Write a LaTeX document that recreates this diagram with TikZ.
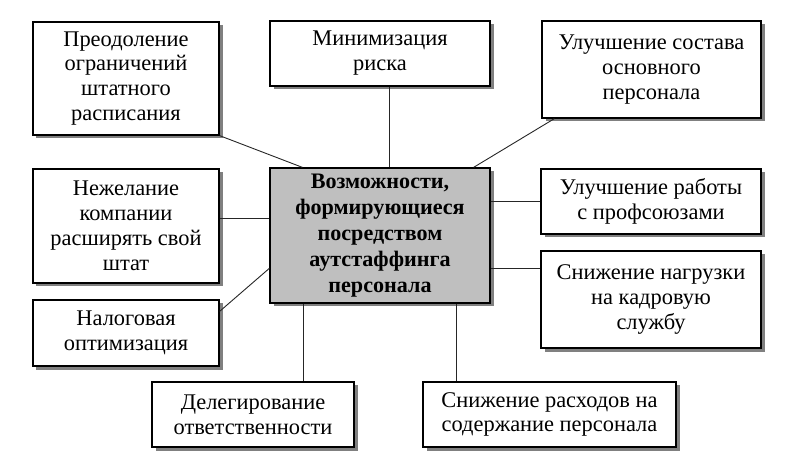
\documentclass[tikz,border=0pt]{standalone}
\usepackage{fontspec}
\setmainfont{Liberation Serif}
\usetikzlibrary{shadows}
\begin{document}
\begin{tikzpicture}[x=1bp,y=-1bp,
  box/.style={draw=black, line width=1.3bp, fill=white, align=center, inner sep=2bp,
    font=\fontsize{22.5}{25}\selectfont,
    general shadow={fill=black!50, shadow xshift=3.5bp, shadow yshift=-3.5bp}},
  centre/.style={box, fill=black!25, font=\fontsize{22.2}{26}\selectfont\bfseries},
  link/.style={draw=black!85, line width=0.9bp}]
\useasboundingbox (0,0) rectangle (805,460);
\node[box, minimum width=186bp, minimum height=113bp] (b1) at (126,78.5) {Преодоление\\ограничений\\штатного\\расписания};
\node[box, minimum width=220bp, minimum height=65bp] (b2) at (380,53.5) {Минимизация\\риска};
\node[box, minimum width=219bp, minimum height=97bp] (b3) at (651.5,69.5) {Улучшение состава\\основного\\персонала};
\node[centre, minimum width=220bp, minimum height=135bp] (c) at (380,235.5) {Возможности,\\формирующиеся\\посредством\\аутстаффинга\\персонала};
\node[box, minimum width=186bp, minimum height=114bp] (b4) at (126,226) {Нежелание\\компании\\расширять свой\\штат};
\node[box, minimum width=220bp, minimum height=65bp] (b5) at (651,201.5) {Улучшение работы\\с профсоюзами};
\node[box, minimum width=186bp, minimum height=66bp] (b6) at (126,333) {Налоговая\\оптимизация};
\node[box, minimum width=220bp, minimum height=97bp] (b7) at (651,299.5) {Снижение нагрузки\\на кадровую\\службу};
\node[box, minimum width=202bp, minimum height=65bp] (b8) at (253,414.5) {Делегирование\\ответственности};
\node[box, minimum width=253bp, minimum height=65bp] (b9) at (549.5,414.5) {Снижение расходов на\\содержание персонала};
\draw[link] (b1.south east) -- ([xshift=33bp]c.north west);
\draw[link] ([xshift=9bp]b2.south) -- ([xshift=9bp]b2.south |- c.north);
\draw[link] ([xshift=13bp]b3.south west) -- ([xshift=-17bp]c.north east);
\draw[link] ([yshift=8bp]b4.east) -- ([yshift=8bp]b4.east -| c.west);
\draw[link] (b5.west) -- (b5.west -| c.east);
\draw[link] ([yshift=31.5bp]b7.west) -- ([yshift=31.5bp]b7.west -| c.east);
\draw[link] ([yshift=-12bp]b6.north east) -- ([yshift=-101bp]c.north west);
\draw[link] ([xshift=34bp]c.south west) -- ([xshift=34bp]c.south west |- b8.north);
\draw[link] ([xshift=-34bp]c.south east) -- ([xshift=-34bp]c.south east |- b9.north);
\end{tikzpicture}
\end{document}
